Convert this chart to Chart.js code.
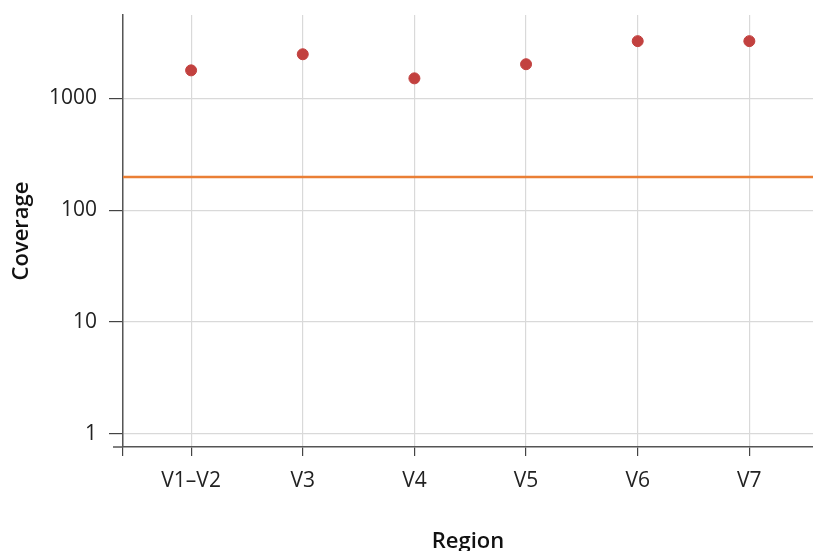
<!DOCTYPE html>
<html>
<head>
<meta charset="utf-8">
<script src="https://cdn.jsdelivr.net/npm/chart.js@4"></script>
<style>
  html, body { margin: 0; padding: 0; background: #fff; }
  #wrap { width: 813px; height: 551px; }
</style>
</head>
<body>
<div id="wrap"><canvas id="myChart"></canvas></div>
<script>
const regions = ['V1–V2', 'V3', 'V4', 'V5', 'V6', 'V7'];
const coverage = [1780, 2480, 1510, 2020, 3250, 3250];
const threshold = 198;
const yTicks = [1, 10, 100, 1000];

const xMin = -0.61;
const xMax = 5.57;

// little extension of the x axis line to the left of the y axis
const axisStub = {
    id: 'axisStub',
    afterDraw(chart) {
        const ctx = chart.ctx;
        const area = chart.chartArea;
        ctx.save();
        ctx.strokeStyle = '#555';
        ctx.lineWidth = 1.5;
        ctx.beginPath();
        ctx.moveTo(area.left - 10, area.bottom);
        ctx.lineTo(area.left, area.bottom);
        ctx.stroke();
        ctx.restore();
    }
};

const ctx = document.getElementById('myChart').getContext('2d');

new Chart(ctx, {
    type: 'scatter',
    data: {
        datasets: [{
            label: 'Coverage',
            data: coverage.map((v, i) => ({ x: i, y: v })),
            backgroundColor: '#c2413f',
            borderColor: '#c2413f',
            pointRadius: 5.5,
            pointHoverRadius: 5.5
        }, {
            label: 'Threshold',
            type: 'line',
            data: [{ x: xMin, y: threshold }, { x: xMax, y: threshold }],
            borderColor: '#ea7f35',
            borderWidth: 2.5,
            pointRadius: 0,
            fill: false
        }]
    },
    options: {
        responsive: true,
        maintainAspectRatio: false,
        animation: false,
        layout: { autoPadding: false, padding: { top: 15, right: 0, left: 0, bottom: 0 } },
        plugins: {
            legend: { display: false },
            tooltip: { enabled: false }
        },
        scales: {
            x: {
                type: 'linear',
                min: xMin,
                max: xMax,
                afterBuildTicks: function (scale) {
                    scale.ticks = [{ value: xMin }].concat(regions.map((r, i) => ({ value: i })));
                },
                afterFit: function (scale) {
                    scale.height = 104;
                    scale.paddingLeft = 0;
                    scale.paddingRight = 0;
                },
                ticks: {
                    autoSkip: false,
                    maxRotation: 0,
                    padding: 12,
                    color: '#222',
                    font: { family: 'Open Sans', size: 21 },
                    callback: function (value) {
                        return Number.isInteger(value) ? regions[value] : '';
                    }
                },
                grid: {
                    color: '#d9d9d9',
                    tickColor: '#444',
                    tickLength: 9,
                    lineWidth: 1.2
                },
                border: { display: true, color: '#555', width: 1.5 },
                title: {
                    display: true,
                    text: 'Region',
                    color: '#111',
                    font: { family: 'Open Sans', size: 22, weight: 600, lineHeight: 0.85 },
                    padding: { top: 0, bottom: 0 }
                }
            },
            y: {
                type: 'logarithmic',
                min: 0.76,
                max: 5568,
                afterBuildTicks: function (scale) {
                    scale.ticks = yTicks.map(v => ({ value: v }));
                },
                afterFit: function (scale) {
                    scale.width = 123;
                    scale.paddingTop = 0;
                    scale.paddingBottom = 0;
                },
                ticks: {
                    padding: 12,
                    color: '#222',
                    font: { family: 'Open Sans', size: 21 },
                    callback: function (value) { return String(value); }
                },
                grid: {
                    color: '#d9d9d9',
                    tickColor: '#444',
                    tickLength: 14,
                    lineWidth: 1.2
                },
                border: { display: true, color: '#555', width: 1.5 },
                title: {
                    display: true,
                    text: 'Coverage',
                    color: '#111',
                    font: { family: 'Open Sans', size: 22, weight: 600 },
                    padding: { top: 9, bottom: 0 }
                }
            }
        }
    },
    plugins: [axisStub]
});
</script>
</body>
</html>
